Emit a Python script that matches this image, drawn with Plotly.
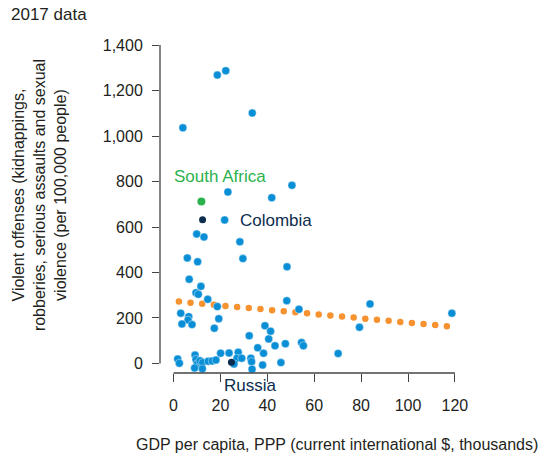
# scatter of violent offenses vs GDP per capita, 2017, with a dotted trend line

import plotly.graph_objects as go

# GDP per capita, PPP (thousands) and violent offenses per 100,000
gdp = [18.7, 22.3, 33.6, 4.0, 50.5, 23.2, 41.9, 21.8, 9.9, 13.0, 28.3, 5.9, 10.3, 29.6,
       48.4, 6.7, 11.7, 9.6, 10.6, 14.6, 48.3, 53.5, 83.8, 118.7, 79.3, 18.7, 19.3, 17.4,
       3.1, 6.5, 6.2, 3.6, 7.9, 32.3, 39.0, 41.4, 40.6, 35.9, 43.3, 47.7, 38.4, 54.6,
       55.4, 70.2, 1.8, 2.5, 9.2, 9.6, 10.1, 11.3, 12.4, 9.0, 12.3, 14.8, 16.5, 18.1,
       20.1, 23.7, 27.6, 27.1, 29.1, 25.8, 33.0, 33.3, 33.5, 38.0, 45.8]
offenses = [1268, 1287, 1101, 1036, 783, 754, 729, 631, 569, 556, 535, 464, 447, 461,
            425, 370, 339, 311, 304, 282, 276, 238, 262, 221, 159, 250, 197, 155,
            221, 206, 191, 174, 171, 122, 166, 142, 108, 69, 78, 87, 45, 92,
            78, 44, 20, 1, 37, 18, -2, 12, 4, -20, -23, 10, 11, 15,
            45, 46, 49, 23, 23, -2, 23, 8, -25, -7, 4]

# highlighted countries
south_africa_gdp = [11.9]
south_africa_off = [712]
navy_names = ["Colombia", "Russia"]
navy_gdp = [12.4, 24.7]
navy_off = [632, 5]

# fitted trend, start and end
trend_gdp = [2.3, 118.8]
trend_off = [272, 162]

x_ticks = [0, 20, 40, 60, 80, 100, 120]
y_ticks = [0, 200, 400, 600, 800, 1000, 1200, 1400]

BLUE = "#0a8fd6"
ORANGE = "#f6922f"
GREEN = "#2bb24c"
NAVY = "#0d2d4f"
TEXT = "#231f20"
AXIS = "#444444"
FONT = "Liberation Sans, Arial, sans-serif"

fig = go.Figure()

fig.add_trace(go.Scatter(
    x=trend_gdp, y=trend_off, mode="lines",
    line=dict(color=ORANGE, width=6.5, dash="0px,11.7px"),
    hoverinfo="skip", showlegend=False))

fig.add_trace(go.Scatter(
    x=gdp, y=offenses, mode="markers",
    marker=dict(color=BLUE, size=8, line=dict(color="white", width=0.4)),
    showlegend=False))

fig.add_trace(go.Scatter(
    x=south_africa_gdp, y=south_africa_off, mode="markers",
    marker=dict(color=GREEN, size=8), showlegend=False))

fig.add_trace(go.Scatter(
    x=navy_gdp, y=navy_off, mode="markers", text=navy_names,
    marker=dict(color=NAVY, size=7), showlegend=False))

fig.update_layout(
    width=547, height=458,
    margin=dict(l=160, r=82, t=30, b=85),
    paper_bgcolor="white", plot_bgcolor="white",
    font=dict(family=FONT, size=16, color=TEXT),
    xaxis=dict(range=[-5.75, 124.3], tickvals=x_ticks, showgrid=False, zeroline=False,
               showline=False, ticks="outside", ticklen=8, tickwidth=1.3,
               tickcolor=AXIS, ticklabelstandoff=10),
    yaxis=dict(range=[-41.8, 1466], tickvals=y_ticks, tickformat=",",
               showgrid=False, zeroline=False, showline=False, ticks="outside",
               ticklen=7, tickwidth=1.3, tickcolor=AXIS, ticklabelstandoff=6),
    shapes=[
        dict(type="line", xref="paper", yref="y", x0=0, x1=0, y0=0, y1=1400,
             line=dict(color=AXIS, width=1.3)),
        dict(type="line", xref="x", yref="paper", x0=0, x1=120, y0=0, y1=0,
             line=dict(color=AXIS, width=1.3)),
    ],
    annotations=[
        dict(text="2017 data", xref="paper", yref="paper", x=-0.495, y=1.044,
             xanchor="left", yanchor="middle", showarrow=False, font=dict(size=17)),
        dict(text="Violent offenses (kidnappings,<br>robberies, serious assaults and sexual"
                  "<br>violence (per 100,000 people)",
             xref="paper", yref="paper", x=-0.393, y=0.519, textangle=-90,
             xanchor="center", yanchor="middle", align="center", showarrow=False),
        dict(text="GDP per capita, PPP (current international $, thousands)",
             xref="paper", yref="paper", x=-0.085, y=-0.207,
             xanchor="left", yanchor="middle", showarrow=False),
        dict(text="South Africa", xref="paper", yref="paper", x=0.04, y=0.574,
             xanchor="left", yanchor="middle", showarrow=False,
             font=dict(size=17, color=GREEN)),
        dict(text="Colombia", xref="paper", yref="paper", x=0.256, y=0.446,
             xanchor="left", yanchor="middle", showarrow=False,
             font=dict(size=17, color=NAVY)),
        dict(text="Russia", xref="paper", yref="paper", x=0.202, y=-0.035,
             xanchor="left", yanchor="middle", showarrow=False,
             font=dict(size=17, color=NAVY)),
    ],
)

# no page margin, and round caps so the dotted trend line is drawn as round dots
page_style = ("var s=document.createElement('style');"
              "s.textContent='body{margin:0;}"
              ".scatterlayer .js-line{stroke-linecap:round}';"
              "document.head.appendChild(s);")

fig.write_html("out.html", post_script=page_style,
               config={"displayModeBar": False})
